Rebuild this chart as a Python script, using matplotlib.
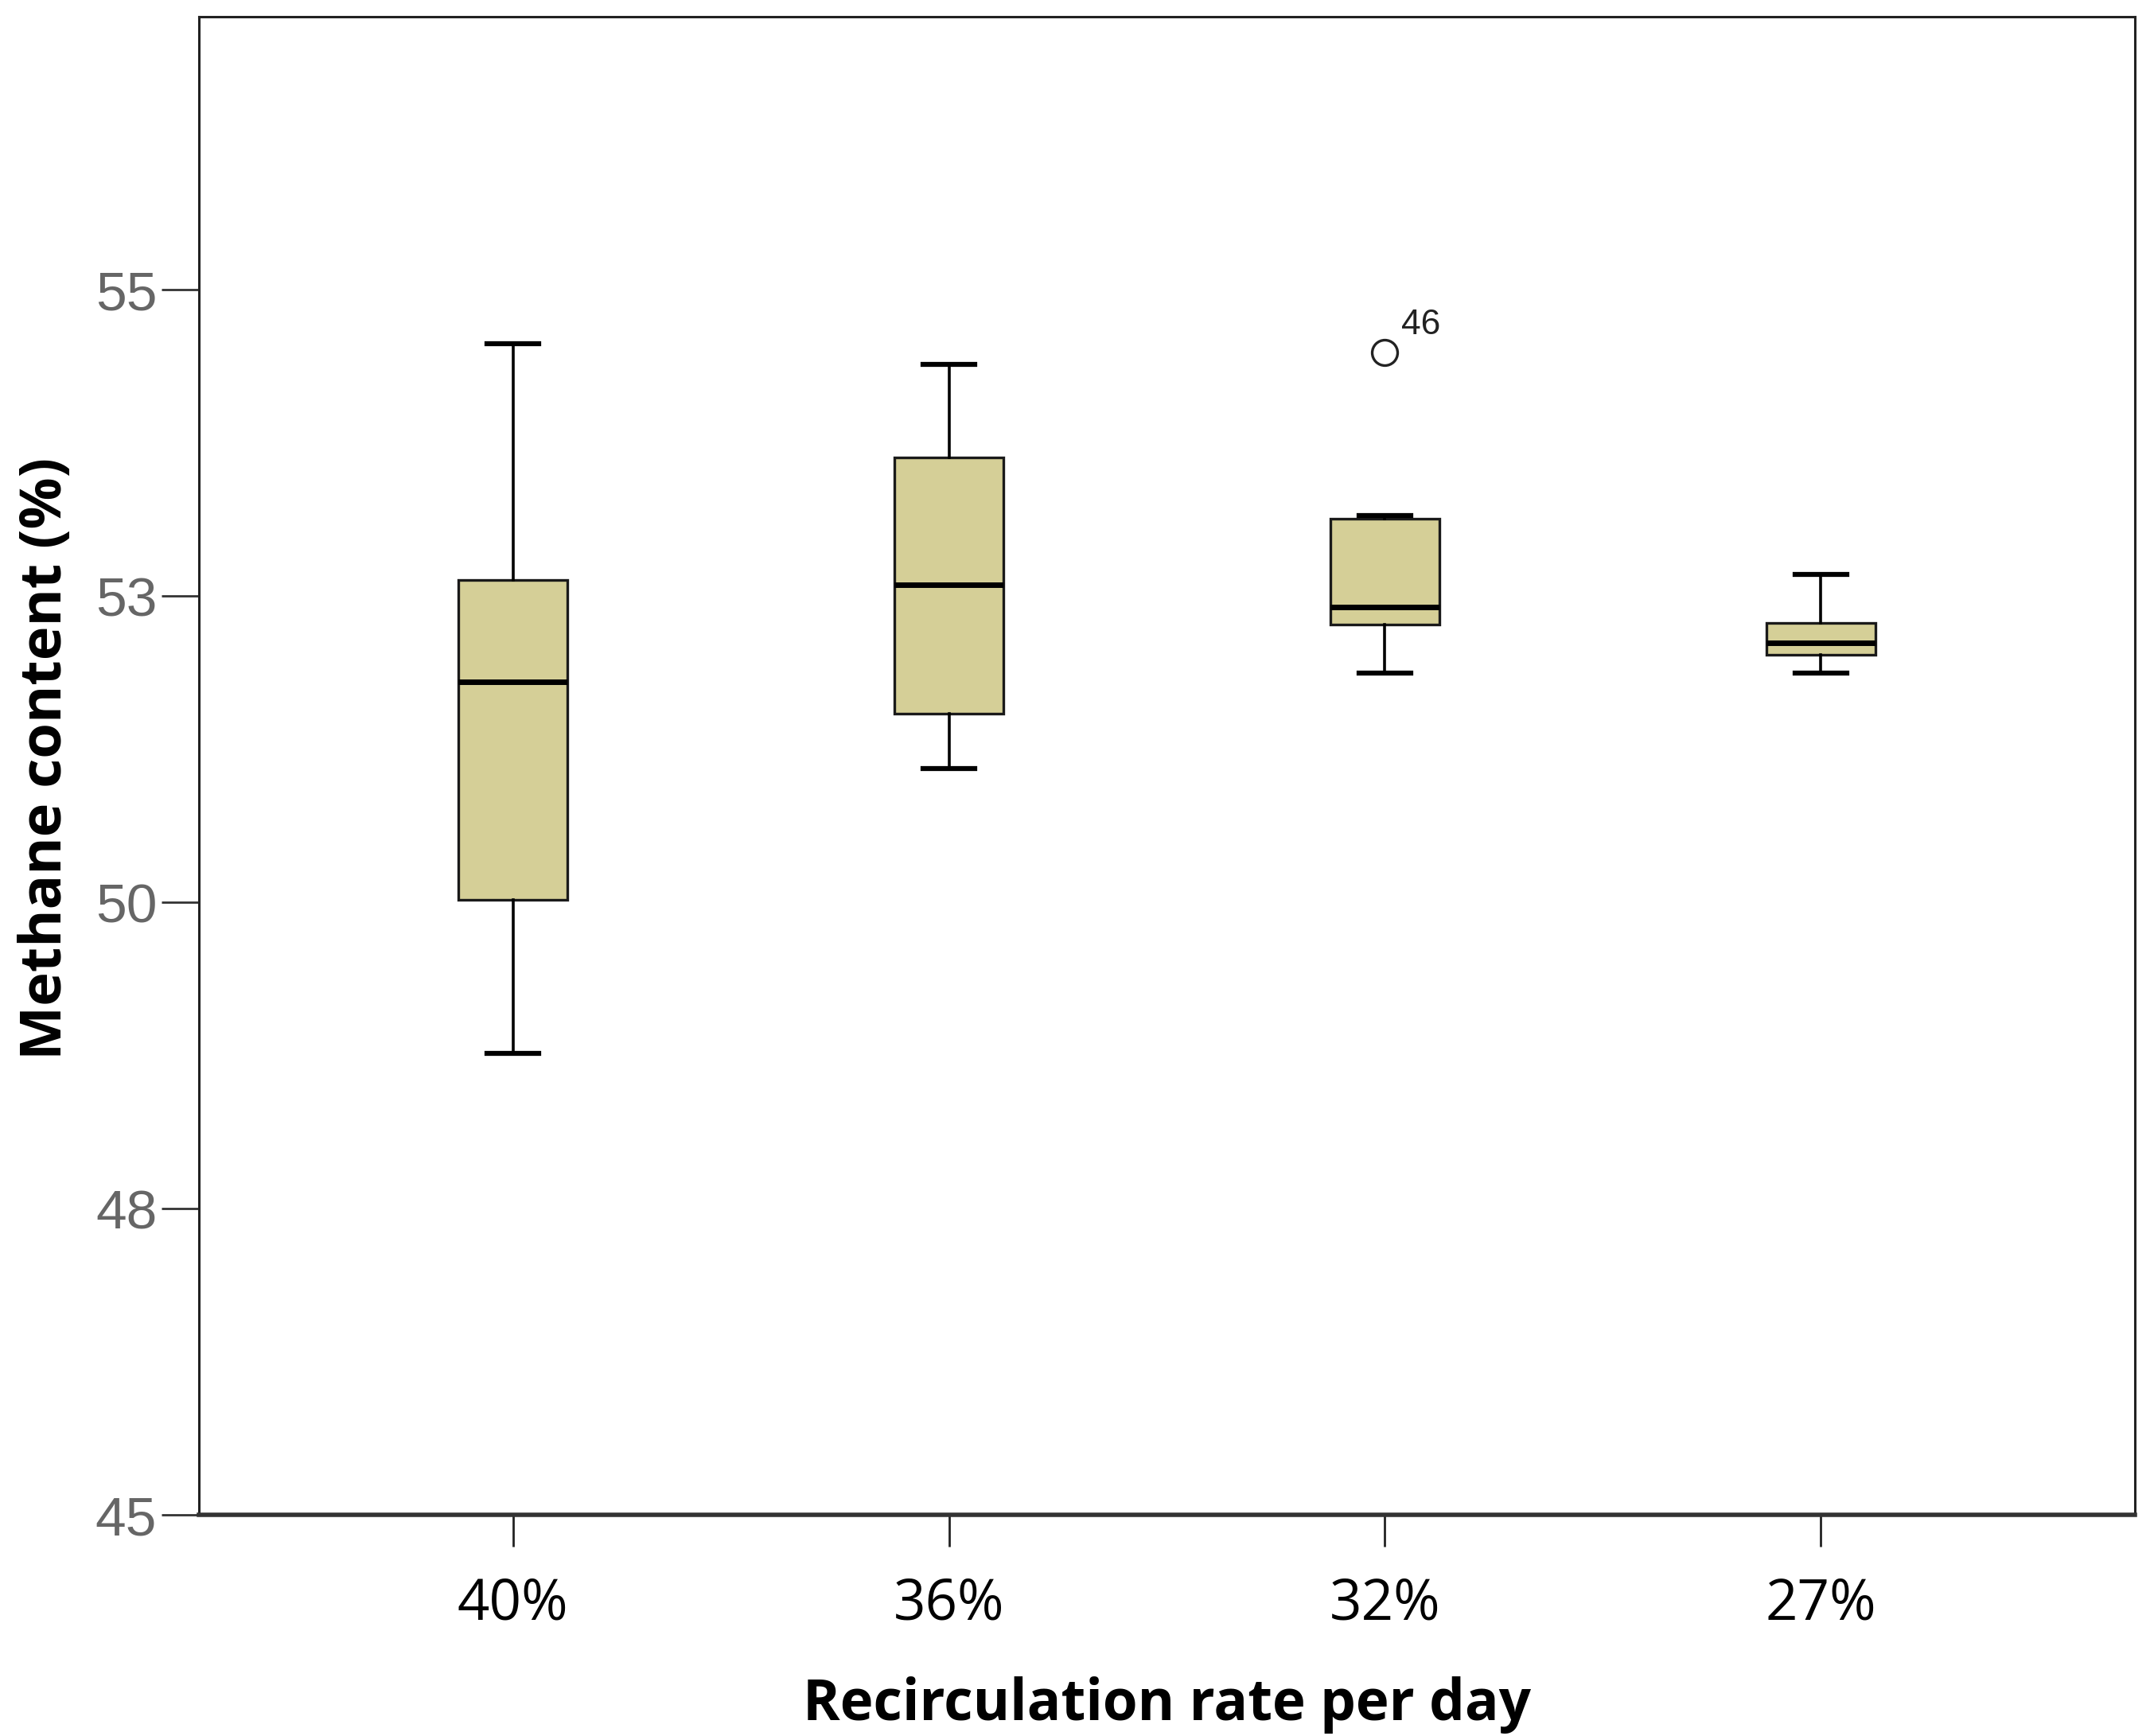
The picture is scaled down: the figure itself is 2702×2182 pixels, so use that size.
import numpy as np
import matplotlib
matplotlib.use("Agg")
import matplotlib.pyplot as plt

# * Box statistics (methane content, %)

categories = ["40%", "36%", "32%", "27%"]
whisker_low = [48.77, 51.09, 51.87, 51.87]
q1 = [50.02, 51.54, 52.27, 52.02]
median = [51.80, 52.59, 52.41, 52.12]
q3 = [52.63, 53.63, 53.13, 52.28]
whisker_high = [54.56, 54.39, 53.16, 52.68]
outliers = [[], [], [54.49], []]
outlier_labels = [[], [], ["46"], []]

yticks = [45, 47.5, 50, 52.5, 55]
ytick_labels = ["45", "48", "50", "53", "55"]

# * Figure

W, H = 2702, 2182
DPI = 100
fig = plt.figure(figsize=(W / DPI, H / DPI), dpi=DPI)

left, right, top, bottom = 250, 2683, 21, 1904
ax = fig.add_axes([left / W, 1 - bottom / H, (right - left) / W, (bottom - top) / H])

stats = []
for i in range(len(categories)):
    stats.append(dict(whislo=whisker_low[i], q1=q1[i], med=median[i], q3=q3[i],
                      whishi=whisker_high[i], fliers=outliers[i]))

positions = np.arange(1, len(categories) + 1)
ax.bxp(stats, positions=positions, widths=0.25, capwidths=0.12,
       patch_artist=True, showfliers=True,
       boxprops=dict(facecolor="#D5CF97", edgecolor="#1a1a1a", linewidth=2.4),
       medianprops=dict(color="black", linewidth=5),
       whiskerprops=dict(color="black", linewidth=2.6),
       capprops=dict(color="black", linewidth=4.5),
       flierprops=dict(marker="o", markersize=23, markerfacecolor="white",
                       markeredgecolor="#222222", markeredgewidth=2.4))

# outlier case numbers
for i, (vals, labs) in enumerate(zip(outliers, outlier_labels)):
    for v, lab in zip(vals, labs):
        ax.annotate(lab, (positions[i], v), xytext=(15, 25), textcoords="offset points",
                    fontsize=32, family="Liberation Sans", color="#222222",
                    ha="left", va="center")

ax.set_xlim(0.28, 4.72)
ax.set_ylim(45, 57.23)

ax.set_yticks(yticks)
ax.set_yticklabels(ytick_labels, family="Liberation Sans", fontsize=50)
ax.set_xticks(positions)
ax.set_xticklabels(categories, family="Open Sans", fontsize=51, va="center")

ax.tick_params(axis="y", direction="out", length=34, width=2, pad=4, colors="#333333",
               labelcolor="#666666")
ax.tick_params(axis="x", direction="out", length=29, width=2, pad=52, colors="#222222",
               labelcolor="black")

for side in ["left", "top", "right"]:
    ax.spines[side].set_linewidth(2.2)
    ax.spines[side].set_color("#222222")
ax.spines["bottom"].set_linewidth(4)
ax.spines["bottom"].set_color("#333333")

ax.set_xlabel("Recirculation rate per day", family="Open Sans", fontweight="bold",
              fontsize=51, va="center")
ax.xaxis.set_label_coords(0.5, -0.127)
ax.set_ylabel("Methane content (%)", family="Open Sans", fontweight="bold",
              fontsize=52, va="center")
ax.yaxis.set_label_coords(-0.079, 0.505)

fig.savefig("out.png", dpi=DPI)
